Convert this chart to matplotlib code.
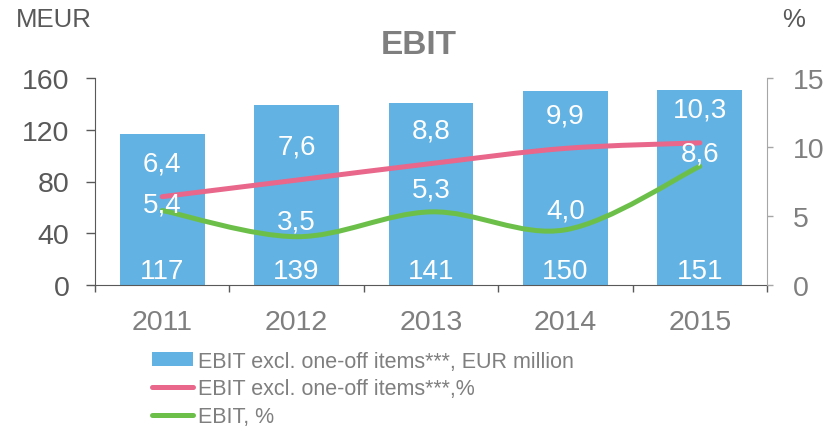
import numpy as np
import matplotlib
matplotlib.use("Agg")
import matplotlib.pyplot as plt
from matplotlib.path import Path
from matplotlib.patches import PathPatch, Patch
from matplotlib.lines import Line2D

plt.rcParams['font.family'] = ['Liberation Sans', 'DejaVu Sans']

years = ['2011', '2012', '2013', '2014', '2015']
ebit_meur = [117, 139, 141, 150, 151]
ebit_excl_pct = [6.4, 7.6, 8.8, 9.9, 10.3]
ebit_pct = [5.4, 3.5, 5.3, 4.0, 8.6]
ebit_excl_lbl = ['6,4', '7,6', '8,8', '9,9', '10,3']
ebit_lbl = ['5,4', '3,5', '5,3', '4,0', '8,6']
bar_lbl = ['117', '139', '141', '150', '151']

BAR = '#62B2E3'
RED = '#E8678A'
GREEN = '#6CC04A'
DARK = '#595959'
GREY = '#7F7F7F'

fig = plt.figure(figsize=(8.27, 4.31), dpi=100)
ax = fig.add_axes([95/827, 1-286/431, (767-95)/827, (286-79)/431])
ax2 = ax.twinx()

x = np.arange(len(years))
ax.bar(x, ebit_meur, width=0.63, color=BAR, zorder=2)
ax.set_xlim(-0.5, len(years)-0.5)
ax.set_ylim(0, 160)
ax.set_yticks([0, 40, 80, 120, 160])
ax2.set_ylim(0, 15)
ax2.set_yticks([0, 5, 10, 15])

# x ticks at category boundaries
ax.set_xticks(np.arange(-0.5, len(years), 1.0))
ax.set_xticklabels([])
ax.tick_params(axis='x', which='major', direction='out', length=5, width=1, color=DARK)
ax.set_xticks(x, minor=True)
ax.set_xticklabels(years, minor=True)
ax.tick_params(axis='x', which='minor', length=0, labelsize=20.5, labelcolor=GREY, pad=17)

ax.tick_params(axis='y', direction='out', length=6.5, width=1, color=DARK, labelsize=20.5, labelcolor=DARK, pad=12)
ax2.tick_params(axis='y', direction='out', length=4.5, width=1, color='#A6A6A6', labelsize=20.5, labelcolor=GREY, pad=14)

for a in (ax, ax2):
    a.spines['top'].set_visible(False)
ax.spines['right'].set_visible(False)
ax2.spines['left'].set_visible(False)
ax2.spines['bottom'].set_visible(False)
ax.spines['left'].set_color(DARK)
ax.spines['bottom'].set_color(DARK)
ax2.spines['right'].set_color('#A6A6A6')

def smooth_path(xs, ys):
    xs = np.asarray(xs, float); ys = np.asarray(ys, float)
    n = len(xs)
    verts = [(xs[0], ys[0])]
    codes = [Path.MOVETO]
    for i in range(n-1):
        p0 = np.array([xs[max(i-1, 0)], ys[max(i-1, 0)]])
        p1 = np.array([xs[i], ys[i]])
        p2 = np.array([xs[i+1], ys[i+1]])
        p3 = np.array([xs[min(i+2, n-1)], ys[min(i+2, n-1)]])
        c1 = p1 + (p2 - p0) / 6.0
        c2 = p2 - (p3 - p1) / 6.0
        verts += [tuple(c1), tuple(c2), tuple(p2)]
        codes += [Path.CURVE4]*3
    return Path(verts, codes)

for vals, col in ((ebit_excl_pct, RED), (ebit_pct, GREEN)):
    pp = PathPatch(smooth_path(x, vals), facecolor='none', edgecolor=col, lw=3.6,
                   capstyle='round', joinstyle='round', zorder=3)
    ax2.add_patch(pp)

for xi, v, t in zip(x, ebit_excl_pct, ebit_excl_lbl):
    ax2.annotate(t, (xi, v), xytext=(0, 24), textcoords='offset points',
                 ha='center', va='center', color='white', fontsize=20, zorder=4)
green_off = [4, 11, 16, 14, 9]
for xi, v, t, o in zip(x, ebit_pct, ebit_lbl, green_off):
    ax2.annotate(t, (xi, v), xytext=(0, o), textcoords='offset points',
                 ha='center', va='center', color='white', fontsize=20, zorder=4)
for xi, t in zip(x, bar_lbl):
    ax.annotate(t, (xi, 0), xytext=(0, 10), textcoords='offset points',
                ha='center', va='center', color='white', fontsize=20, zorder=4)

fig.text(419/827, 1-46/431, 'EBIT', ha='center', va='center', fontsize=24,
         fontweight='bold', color=GREY)
fig.text(16/827, 1-20/431, 'MEUR', ha='left', va='center', fontsize=18.5, color=DARK)
fig.text(794/827, 1-20/431, '%', ha='center', va='center', fontsize=18.5, color=DARK)

handles = [Patch(facecolor=BAR, edgecolor='none'),
           Line2D([], [], color=RED, lw=3.6, solid_capstyle='round'),
           Line2D([], [], color=GREEN, lw=3.6, solid_capstyle='round')]
labels = ['EBIT excl. one-off items***, EUR million',
          'EBIT excl. one-off items***,%',
          'EBIT, %']
leg = fig.legend(handles, labels, loc='center left',
                 bbox_to_anchor=(152/827, 1-390/431), bbox_transform=fig.transFigure,
                 frameon=False, fontsize=15.5, handlelength=1.9, handleheight=0.6,
                 handletextpad=0.25, labelspacing=0.32, borderpad=0, borderaxespad=0)
for t in leg.get_texts():
    t.set_color(GREY)

fig.savefig('out.png', dpi=100)
